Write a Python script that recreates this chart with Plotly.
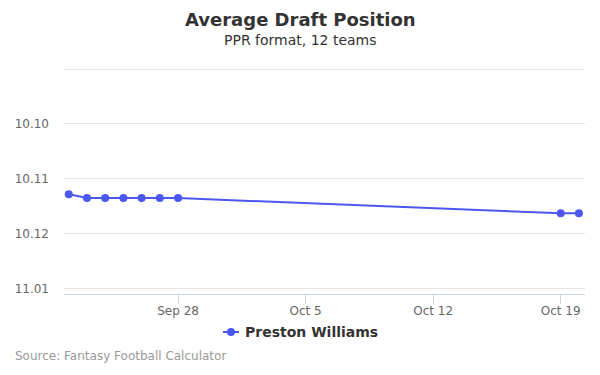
import plotly.graph_objects as go

dates = ["2019-09-22", "2019-09-23", "2019-09-24", "2019-09-25", "2019-09-26",
         "2019-09-27", "2019-09-28", "2019-10-19", "2019-10-20"]
adp = [119.28, 119.35, 119.35, 119.35, 119.35, 119.35, 119.35, 119.63, 119.63]

tick_vals = [117, 118, 119, 120, 121]
tick_text = ["", "10.10", "10.11", "10.12", "11.01"]
x_tick_vals = ["2019-09-28", "2019-10-05", "2019-10-12", "2019-10-19"]
x_tick_text = ["Sep 28", "Oct 5", "Oct 12", "Oct 19"]
series_name = "Preston Williams"

color = "#4b57ef"
font = "DejaVu Sans"
W, H = 600, 375
L, R, T, B = 64, 15, 68, 81
PW, PH = W - L - R, H - T - B


def px(x):
    return (x - L) / PW


def py(y):
    return (H - B - y) / PH


fig = go.Figure()
fig.add_trace(go.Scatter(
    x=dates, y=adp, mode="lines+markers", name=series_name,
    line=dict(color=color, width=2),
    marker=dict(color=color, size=8),
    showlegend=False,
))

fig.update_layout(
    width=W, height=H,
    margin=dict(l=L, r=R, t=T, b=B),
    paper_bgcolor="white", plot_bgcolor="white",
    font=dict(family=font, color="#666666", size=12),
    showlegend=False,
    xaxis=dict(
        type="date",
        range=["2019-09-21 17:45", "2019-10-20 08:00"],
        tickvals=x_tick_vals, ticktext=x_tick_text,
        showgrid=False, zeroline=False,
        showline=True, linecolor="#ccd6eb", linewidth=1,
        ticks="outside", ticklen=9, tickcolor="#ccd6eb",
        ticklabelstandoff=-3,
        tickfont=dict(family=font, size=12, color="#666666"),
    ),
    yaxis=dict(
        range=[121.1, 116.98],
        tickvals=tick_vals, ticktext=tick_text,
        showgrid=True, gridcolor="#e6e6e6", gridwidth=1,
        zeroline=False, showline=False, ticks="",
        ticklabelstandoff=14,
        tickfont=dict(family=font, size=12, color="#666666"),
    ),
)

# Title and subtitle
fig.add_annotation(
    text="<b>Average Draft Position</b>", xref="paper", yref="paper",
    x=px(300), y=py(19), xanchor="center", yanchor="middle", showarrow=False,
    font=dict(family=font, size=18, color="#333333"),
)
fig.add_annotation(
    text="PPR format, 12 teams", xref="paper", yref="paper",
    x=px(300), y=py(40), xanchor="center", yanchor="middle", showarrow=False,
    font=dict(family=font, size=14, color="#333333"),
)

# Legend (custom)
fig.add_shape(type="line", xref="paper", yref="paper",
              x0=px(223), x1=px(239), y0=py(332), y1=py(332),
              line=dict(color=color, width=2))
fig.add_shape(type="circle", xref="paper", yref="paper",
              x0=px(227), x1=px(235), y0=py(336), y1=py(328),
              line=dict(color=color, width=0), fillcolor=color)
fig.add_annotation(
    text="<b>" + series_name + "</b>", xref="paper", yref="paper",
    x=px(243), y=py(332), xanchor="left", yanchor="middle", showarrow=False,
    font=dict(family=font, size=14, color="#333333"),
)

# Source
fig.add_annotation(
    text="Source: Fantasy Football Calculator",
    xref="paper", yref="paper", x=px(13), xanchor="left",
    y=py(356), yanchor="middle", showarrow=False,
    font=dict(family=font, size=12, color="#999999"),
)

fig.write_html("out.html", config={"displayModeBar": False},
               post_script="document.body.style.margin='0';")
